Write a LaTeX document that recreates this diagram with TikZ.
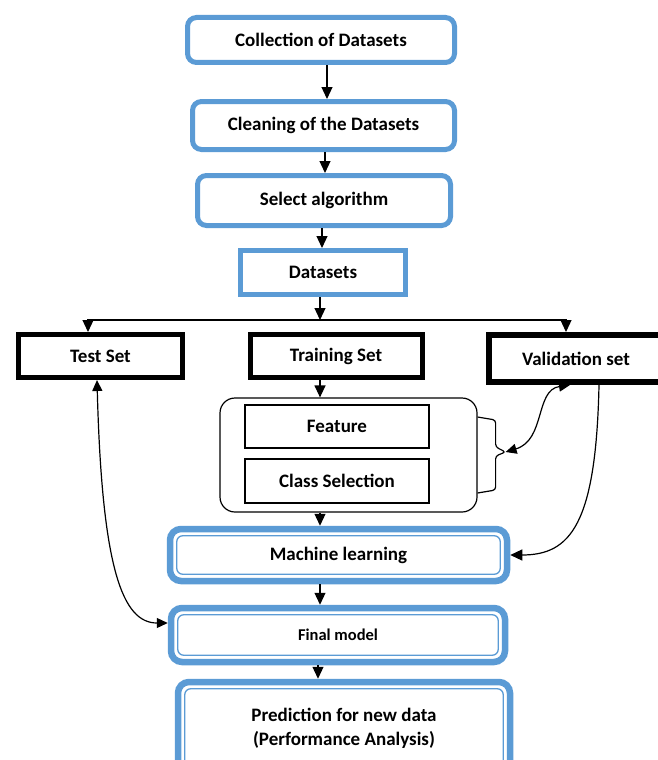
\documentclass[tikz,border=0pt]{standalone}
\usepackage{fontspec}
\setmainfont{Carlito}
\usetikzlibrary{arrows.meta}
\definecolor{boxblue}{RGB}{91,155,213}

\begin{document}
\begin{tikzpicture}[x=1pt,y=-1pt,
    every node/.style={font=\fontsize{19}{24}\selectfont\bfseries, align=center, inner sep=0pt},
    bluebox/.style={draw=boxblue, line width=5pt, rounded corners=9pt},
    dblbox/.style={draw=boxblue, line width=6.5pt, rounded corners=11pt},
    blackbox/.style={draw=black, line width=5pt},
    thinbox/.style={draw=black, line width=1.3pt},
    arr/.style={line width=1.2pt, -{Triangle[length=12pt,width=11pt]}},
    dblarr/.style={line width=1.2pt, {Triangle[length=11pt,width=10pt]}-{Triangle[length=11pt,width=10pt]}}
]
    \useasboundingbox (0,0) rectangle (658,760);
    % top chain
    \node[bluebox, minimum width=267, minimum height=45] (coll) at (321,40) {Collection of Datasets};
    \node[bluebox, minimum width=262, minimum height=48] (clean) at (323.5,125.5) {Cleaning of the Datasets};
    \node[bluebox, minimum width=253, minimum height=50] (select) at (324,200.5) {Select algorithm};
    \node[draw=boxblue, line width=5pt, minimum width=165, minimum height=44] (data) at (323,272.5) {Datasets};

    % the three sets
    \node[blackbox, minimum width=164, minimum height=43] (test) at (100.5,356) {Test Set};
    \node[blackbox, minimum width=172, minimum height=43] (train) at (336,356) {Training Set};
    \node[blackbox, line width=6pt, minimum width=175, minimum height=47] (valid) at (576,358.5) {Validation set};

    % feature / class group
    \node[draw=black, line width=1.2pt, rounded corners=15pt, minimum width=257, minimum height=114] (group) at (348.5,455) {};
    \node[thinbox, minimum width=184, minimum height=43] (feature) at (337,426.5) {Feature};
    \node[thinbox, minimum width=184, minimum height=44] (classsel) at (337,481) {Class Selection};

    % lower chain
    \node[dblbox, minimum width=337, minimum height=52] (ml) at (338.5,555) {Machine learning};
    \node[dblbox, minimum width=334, minimum height=54, font=\fontsize{16.5}{20}\selectfont\bfseries] (final) at (338,635) {Final model};
    \node[dblbox, minimum width=332, minimum height=92] (pred) at (344,728) {Prediction for new data\\(Performance Analysis)};
    \foreach \n in {ml,final,pred}
        \draw[boxblue, line width=1.3pt, rounded corners=6pt] ([shift={(10,10)}]\n.north west) rectangle ([shift={(-10,-10)}]\n.south east);

    \coordinate (split) at (320,320);
    \coordinate (bracetip) at ([xshift=28pt,yshift=3pt]group.east);

    \draw[arr] ([xshift=6pt]coll.south) -- ([xshift=6pt]coll.south |- clean.north);
    \draw[arr] ([xshift=1.5pt]clean.south) -- ([xshift=1.5pt]clean.south |- select.north);
    \draw[arr] ([xshift=-2pt]select.south) -- ([xshift=-2pt]select.south |- data.north);
    \draw[arr] ([xshift=-3pt]data.south) -- (split);
    \draw[line width=1pt, black!80] ([xshift=-12.5pt]test.north |- split) -- ([xshift=-10pt]valid.north |- split);
    \draw[arr] (split) -| ([xshift=-12.5pt]test.north);
    \draw[arr] (split) -| ([xshift=-10pt]valid.north);

    \draw[arr] ([xshift=-16pt]train.south) -- ([xshift=-16pt]train.south |- group.north);
    \draw[arr] ([xshift=-28.5pt]group.south) -- ([xshift=-28.5pt]group.south |- ml.north);
    \draw[arr] ([xshift=-18.5pt]ml.south) -- ([xshift=-18.5pt]ml.south |- final.north);
    \draw[arr] ([xshift=-20pt]final.south) -- ([xshift=-20pt]final.south |- pred.north);

    % brace and side links
    \draw[line width=1.2pt, rounded corners=3pt] ([yshift=38pt]group.east) -- ++(18,3) -- ++(0,27) -- (bracetip) -- ++(-10,4) -- ++(0,34) -- ++(-18,3);
    \draw[dblarr] ([xshift=-6pt]valid.south) .. controls +(-35,5) and +(40,-12) .. (bracetip);
    \draw[arr] ([xshift=23pt]valid.south) .. controls +(-3,140) and +(60,0) .. (ml.east);
    \draw[dblarr] ([xshift=-3.5pt]test.south) .. controls +(5,190) and +(-45,0) .. ([yshift=12pt]final.west);
\end{tikzpicture}
\end{document}
